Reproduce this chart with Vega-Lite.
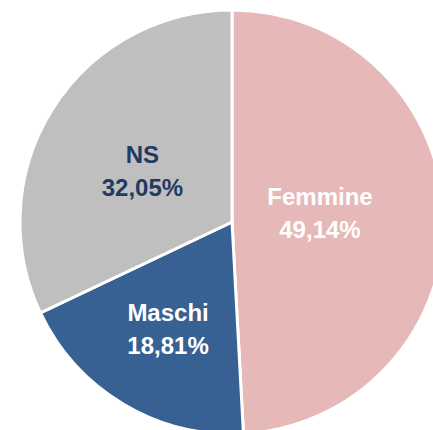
{
  "$schema": "https://vega.github.io/schema/vega-lite/v6.json",
  "width": 464,
  "height": 444,
  "padding": 0,
  "autosize": {"type": "none"},
  "background": "white",
  "view": {"stroke": null},
  "data": {"values": [
    {"cat": "Femmine", "pct": 49.14, "label": "Femmine\n49,14%"},
    {"cat": "Maschi", "pct": 18.81, "label": "Maschi\n18,81%"},
    {"cat": "NS", "pct": 32.05, "label": "NS\n32,05%"}
  ]},
  "encoding": {"theta": {"field": "pct", "type": "quantitative", "stack": true}},
  "layer": [
    {
      "mark": {"type": "arc", "outerRadius": 212, "stroke": "white", "strokeWidth": 3},
      "encoding": {"color": {"field": "cat", "type": "nominal", "scale": {"domain": ["Femmine", "Maschi", "NS"], "range": ["#E6B9B8", "#386193", "#BFBFBF"]}, "legend": null}}
    },
    {
      "mark": {"type": "text", "radius": 88, "dy": -22, "fill": "white", "font": "Liberation Sans", "fontWeight": "bold", "fontSize": 24, "lineBreak": "\n", "lineHeight": 33, "baseline": "middle", "align": "center"},
      "encoding": {"text": {"condition": {"test": "datum.cat === 'Femmine'", "field": "label"}, "value": ""}}
    },
    {
      "mark": {"type": "text", "radius": 125, "dy": -15, "fill": "white", "font": "Liberation Sans", "fontWeight": "bold", "fontSize": 24, "lineBreak": "\n", "lineHeight": 33, "baseline": "middle", "align": "center"},
      "encoding": {"text": {"condition": {"test": "datum.cat === 'Maschi'", "field": "label"}, "value": ""}}
    },
    {
      "mark": {"type": "text", "radius": 106, "dy": -9, "fill": "#1F3A63", "font": "Liberation Sans", "fontWeight": "bold", "fontSize": 24, "lineBreak": "\n", "lineHeight": 33, "baseline": "middle", "align": "center"},
      "encoding": {"text": {"condition": {"test": "datum.cat === 'NS'", "field": "label"}, "value": ""}}
    }
  ]
}
